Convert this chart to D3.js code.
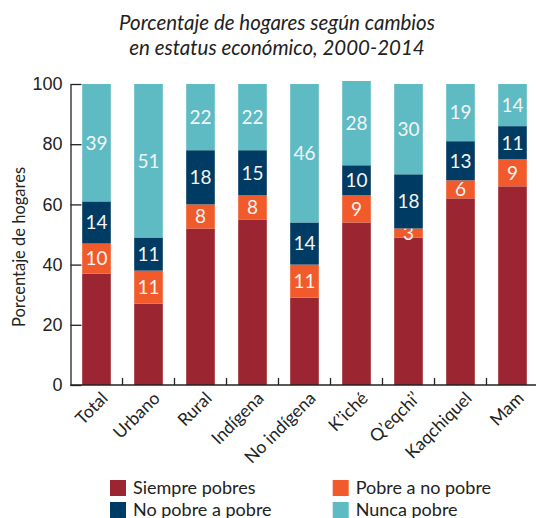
<!DOCTYPE html>
<html>
<head>
<meta charset="utf-8">
<script src="https://cdn.jsdelivr.net/npm/d3@7"></script>
<style>
  body { margin: 0; background: #fff; }
  svg { font-family: Lato, "Open Sans", sans-serif; }
  .axis path, .axis line { stroke: #222; stroke-width: 1.3; }
  .axis text { fill: #222; }
</style>
</head>
<body>
<svg id="chart"></svg>
<script>
const categories = ["Total", "Urbano", "Rural", "Indígena", "No indígena", "K’iché", "Q’eqchi’", "Kaqchiquel", "Mam"];
const siempre   = [37, 27, 52, 55, 29, 54, 49, 62, 66];
const pobreANo  = [10, 11, 8, 8, 11, 9, 3, 6, 9];
const noPobreA  = [14, 11, 18, 15, 14, 10, 18, 13, 11];
const nunca     = [39, 51, 22, 22, 46, 28, 30, 19, 14];
const yTicks    = [0, 20, 40, 60, 80, 100];

const seriesNames = ["Siempre pobres", "Pobre a no pobre", "No pobre a pobre", "Nunca pobre"];
const colors = ["#9b2530", "#f15a2b", "#003b63", "#5ebbc4"];
const showLabel = [false, true, true, true];

const width = 536, height = 518;
const svg = d3.select("#chart").attr("width", width).attr("height", height);

// build a table for d3.stack
const rows = categories.map((c, i) => ({
  cat: c, s0: siempre[i], s1: pobreANo[i], s2: noPobreA[i], s3: nunca[i]
}));
const stack = d3.stack().keys(["s0", "s1", "s2", "s3"])(rows);

const x = d3.scaleBand().domain(categories).range([70.5, 538.5])
  .paddingInner(0.45).paddingOuter(0.225);
const y = d3.scaleLinear().domain([0, 100]).range([385, 84]);

// title
svg.append("text")
  .attr("x", 277).attr("y", 30)
  .attr("text-anchor", "middle")
  .style("font-style", "italic").style("font-size", "20.5px").style("fill", "#222")
  .selectAll("tspan")
  .data(["Porcentaje de hogares según cambios", "en estatus económico, 2000-2014"])
  .enter().append("tspan")
  .attr("x", 277).attr("dy", (d, i) => i ? 25 : 0)
  .text(d => d);

// bars
const layer = svg.selectAll(".layer").data(stack).enter().append("g")
  .attr("class", "layer")
  .attr("fill", (d, i) => colors[i]);

layer.selectAll("rect").data(d => d).enter().append("rect")
  .attr("x", d => x(d.data.cat))
  .attr("width", x.bandwidth())
  .attr("y", d => y(d[1]))
  .attr("height", d => y(d[0]) - y(d[1]));

layer.filter((d, i) => showLabel[i])
  .selectAll("text").data(d => d).enter().append("text")
  .attr("x", d => x(d.data.cat) + x.bandwidth() / 2)
  .attr("y", d => y((d[0] + d[1]) / 2))
  .attr("dy", "0.36em")
  .attr("text-anchor", "middle")
  .style("font-size", "19px")
  .style("fill", "#f4f4f4")
  .text(d => d[1] - d[0]);

// y axis
const yAxis = svg.append("g").attr("class", "axis")
  .attr("transform", "translate(70.5,0)")
  .call(d3.axisLeft(y).tickValues(yTicks).tickSizeInner(-11).tickSizeOuter(0).tickPadding(8));
yAxis.selectAll("text").style("font-size", "18px").attr("x", -8);

// x axis
const xAxis = svg.append("g").attr("class", "axis")
  .attr("transform", "translate(0,385)");
xAxis.append("line")
  .attr("x1", 70.5).attr("x2", width).attr("y1", 0).attr("y2", 0);
xAxis.selectAll(".tick").data(categories.slice(1)).enter().append("line")
  .attr("class", "tick")
  .attr("x1", d => x(d) - x.step() * x.paddingInner() / 2)
  .attr("x2", d => x(d) - x.step() * x.paddingInner() / 2)
  .attr("y1", 0).attr("y2", -7);
xAxis.selectAll(".lbl").data(categories).enter().append("text")
  .attr("class", "lbl")
  .attr("transform", d => "translate(" + (x(d) + x.bandwidth() / 2 + 5) + ",7) rotate(-45)")
  .attr("text-anchor", "end")
  .attr("dy", "0.6em")
  .style("font-size", "17.5px")
  .text(d => d);

// y label
svg.append("text")
  .attr("transform", "translate(25,247) rotate(-90)")
  .attr("text-anchor", "middle")
  .style("font-size", "16.5px").style("fill", "#222")
  .text("Porcentaje de hogares");

// legend
const legendPos = [[110, 480], [332.7, 480], [110, 502], [332.7, 502]];
const legendOrder = [0, 1, 2, 3];
const lg = svg.selectAll(".legend").data(legendOrder).enter().append("g")
  .attr("class", "legend")
  .attr("transform", (d, i) => "translate(" + legendPos[i][0] + "," + legendPos[i][1] + ")");
lg.append("rect").attr("width", 16).attr("height", 16).attr("fill", d => colors[d]);
lg.append("text").attr("x", 23).attr("y", 14)
  .style("font-size", "18px").style("fill", "#222")
  .text(d => seriesNames[d]);
</script>
</body>
</html>
